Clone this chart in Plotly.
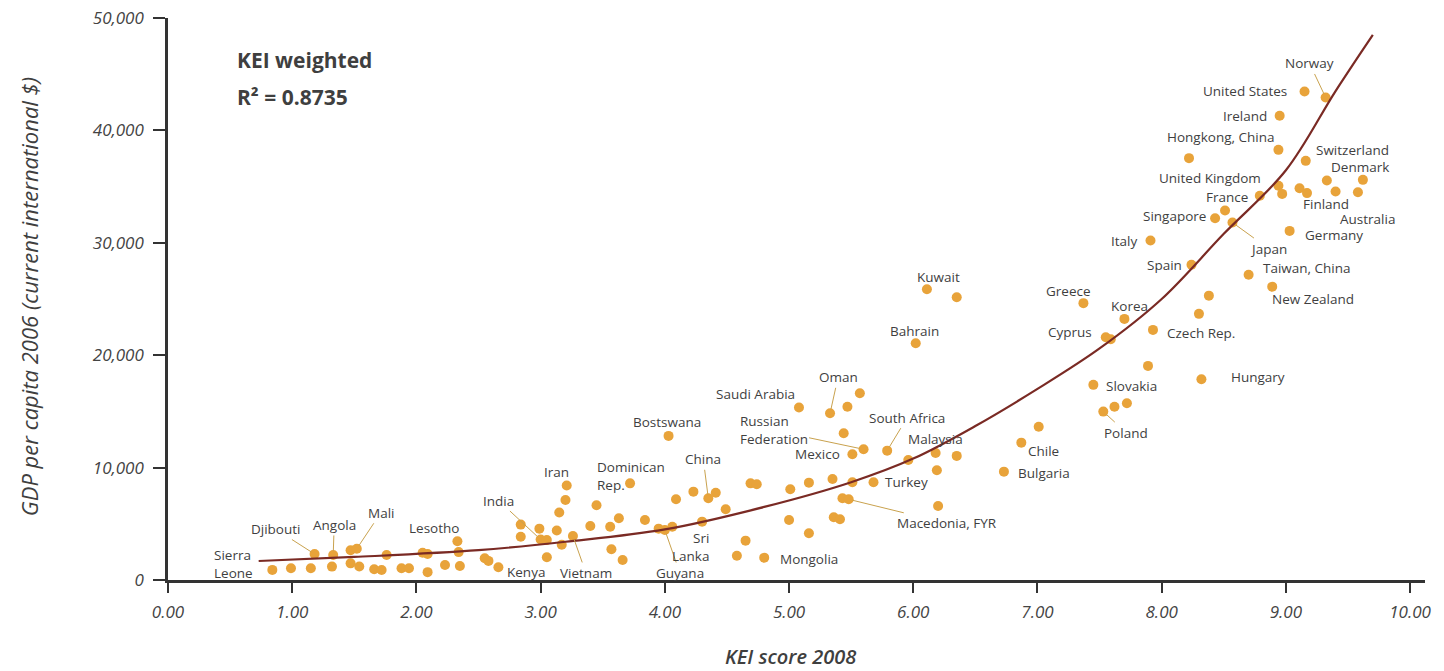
import plotly.graph_objects as go

# ---------------- data ----------------
kei = [0.84, 0.99, 1.15, 1.18, 1.32, 1.33, 1.47, 1.52, 1.47, 1.54,
       1.66, 1.72, 1.76, 1.88, 1.94, 2.05, 2.09, 2.09, 2.23, 2.33,
       2.34, 2.35, 2.55, 2.58, 2.66, 2.84, 2.84, 2.99, 3.00, 3.05,
       3.05, 3.13, 3.15, 3.17, 3.20, 3.21, 3.26, 3.40, 3.45, 3.56,
       3.57, 3.63, 3.66, 3.72, 3.84, 3.95, 4.00, 4.06, 4.03, 4.09,
       4.23, 4.35, 4.41, 4.49, 4.30, 4.58, 4.65, 4.80, 4.69, 4.74,
       5.01, 5.00, 5.16, 5.16, 5.08, 5.33, 5.47, 5.57, 5.44, 5.51,
       5.60, 5.79, 5.35, 5.51, 5.68, 5.43, 5.48, 5.36, 5.41, 5.96,
       6.18, 6.19, 6.20, 6.35, 6.02, 6.11, 6.35, 6.73, 6.87, 7.01,
       7.37, 7.55, 7.59, 7.70, 7.93, 7.45, 7.53, 7.62, 7.72, 7.89,
       8.32, 8.30, 8.38, 8.24, 8.70, 8.89, 9.15, 9.32, 8.95, 8.94,
       8.22, 9.16, 9.33, 9.62, 8.94, 8.97, 9.11, 9.17, 9.40, 9.58,
       8.79, 8.51, 8.43, 8.57, 9.03, 7.91]

gdp = [900, 1040, 1040, 2310, 1190, 2230, 2650, 2780, 1480, 1200,
       950, 890, 2230, 1040, 1040, 2430, 2310, 700, 1335, 3450,
       2480, 1250, 1930, 1700, 1130, 4930, 3850, 4570, 3600, 3560,
       2020, 4400, 6000, 3140, 7120, 8400, 3920, 4800, 6650, 4740,
       2730, 5490, 1780, 8600, 5340, 4570, 4450, 4740, 12820, 7180,
       7860, 7270, 7770, 6290, 5190, 2160, 3500, 1990, 8600, 8520,
       8070, 5340, 4160, 8660, 15340, 14830, 15420, 16610, 13050, 11190,
       11630, 11510, 8990, 8700, 8700, 7270, 7180, 5580, 5400, 10680,
       11300, 9760, 6590, 11040, 21070, 25870, 25160, 9640, 12220, 13640,
       24630, 21600, 21420, 23230, 22250, 17360, 14980, 15420, 15730, 19050,
       17860, 23680, 25300, 28040, 27150, 26100, 43460, 42930, 41300, 38270,
       37530, 37290, 35540, 35600, 35070, 34350, 34860, 34420, 34560, 34500,
       34180, 32870, 32190, 31800, 31060, 30200]

country = ["Sierra Leone", "", "", "Djibouti", "", "Angola", "", "Mali", "", "",
           "", "", "", "", "", "", "", "", "", "Lesotho",
           "", "", "", "", "Kenya", "", "", "", "India", "",
           "", "", "", "", "", "Iran", "Vietnam", "", "", "",
           "", "", "", "Dominican Rep.", "", "", "Guyana", "Sri Lanka", "Bostswana", "",
           "", "China", "", "", "", "", "", "Mongolia", "", "",
           "", "", "", "", "Saudi Arabia", "Oman", "", "", "", "Mexico",
           "Russian Federation", "South Africa", "", "", "Turkey", "", "Macedonia, FYR", "", "", "",
           "Malaysia", "", "", "", "Bahrain", "Kuwait", "", "Bulgaria", "Chile", "",
           "Greece", "Cyprus", "", "Korea", "Czech Rep.", "Slovakia", "Poland", "", "", "",
           "Hungary", "", "", "Spain", "Taiwan, China", "New Zealand", "United States", "Norway", "Ireland", "Hongkong, China",
           "", "Switzerland", "", "Denmark", "United Kingdom", "", "", "Finland", "", "Australia",
           "France", "", "Singapore", "Japan", "Germany", "Italy"]

# trend line
trend_kei = [0.73, 1.5, 2.5, 3.2, 4.0, 4.8, 5.5, 6.0, 6.5, 7.0, 7.5, 8.0, 8.5, 9.0, 9.4, 9.70]
trend_gdp = [1690, 2050, 2650, 3400, 4500, 6500, 8700, 10800, 13700, 17000, 20600, 25000, 30800, 36450, 43500, 48500]

x_ticks = [0, 1, 2, 3, 4, 5, 6, 7, 8, 9, 10]
y_ticks = [0, 10000, 20000, 30000, 40000, 50000]

# ---------------- label placement (pixel offsets of label centre from its dot) ----------------
label_style = {
    "Sierra Leone": (-39, -6, False, "Sierra<br>Leone", "left"),
    "Djibouti": (-39, -25, True, None, "center"),
    "Angola": (1, -30, True, None, "center"),
    "Mali": (24, -36, True, None, "center"),
    "Lesotho": (-23, -13, False, None, "center"),
    "Kenya": (28, 5, False, None, "center"),
    "India": (-42, -39, True, None, "center"),
    "Iran": (-10, -14, False, None, "center"),
    "Vietnam": (13, 37, True, None, "center"),
    "Dominican Rep.": (1, -7, False, "Dominican<br>Rep.", "left"),
    "Bostswana": (-2, -14, False, None, "center"),
    "China": (-5, -39, True, None, "center"),
    "Guyana": (15, 43, True, None, "center"),
    "Sri Lanka": (18, 20, True, "Sri<br>Lanka", "right"),
    "Mongolia": (45, 1, False, None, "center"),
    "Saudi Arabia": (-43, -14, False, None, "center"),
    "Oman": (8, -36, True, None, "center"),
    "Russian Federation": (-90, -19, True, "Russian<br>Federation", "left"),
    "Mexico": (-35, 0, False, None, "center"),
    "South Africa": (20, -33, True, None, "center"),
    "Malaysia": (0, -14, False, None, "center"),
    "Turkey": (33, 0, False, None, "center"),
    "Macedonia, FYR": (98, 24, True, None, "center"),
    "Bahrain": (-1, -12, False, None, "center"),
    "Kuwait": (12, -12, False, None, "center"),
    "Greece": (-15, -12, False, None, "center"),
    "Cyprus": (-36, -5, False, None, "center"),
    "Korea": (5, -13, False, None, "center"),
    "Czech Rep.": (48, 3, False, None, "center"),
    "Slovakia": (38, 1, False, None, "center"),
    "Poland": (23, 21, True, None, "center"),
    "Chile": (22, 8, False, None, "center"),
    "Bulgaria": (40, 1, False, None, "center"),
    "Hungary": (57, -2, False, None, "center"),
    "Spain": (-27, 0, False, None, "center"),
    "Italy": (-27, 0, False, None, "center"),
    "Taiwan, China": (58, -7, False, None, "center"),
    "New Zealand": (41, 12, False, None, "center"),
    "Germany": (44, 4, False, None, "center"),
    "Japan": (36, 26, True, None, "center"),
    "Singapore": (-41, -2, False, None, "center"),
    "France": (-33, 1, False, None, "center"),
    "United Kingdom": (-68, -8, False, None, "center"),
    "Hongkong, China": (-58, -13, False, None, "center"),
    "Ireland": (-35, 0, False, None, "center"),
    "United States": (-60, -1, False, None, "center"),
    "Norway": (-16, -34, True, None, "center"),
    "Switzerland": (47, -11, False, None, "center"),
    "Denmark": (-3, -13, False, None, "center"),
    "Finland": (19, 11, False, None, "center"),
    "Australia": (10, 27, False, None, "center"),
}

DOT = "#E8A33A"
TREND = "#7A2A24"
LEADER = "#C9A24E"
TEXT = "#3f3f3f"
LABEL_FONT = dict(family="Open Sans", size=13.5, color=TEXT)

fig = go.Figure()
fig.add_trace(go.Scatter(x=kei, y=gdp, mode="markers",
                         marker=dict(size=10, color=DOT, line=dict(width=0)),
                         hoverinfo="skip", showlegend=False))
fig.add_trace(go.Scatter(x=trend_kei, y=trend_gdp, mode="lines",
                         line=dict(color=TREND, width=2.2, shape="spline", smoothing=1.0),
                         hoverinfo="skip", showlegend=False))

annotations = []
for xi, yi, name in zip(kei, gdp, country):
    if not name:
        continue
    dx, dy, leader, txt, align = label_style[name]
    annotations.append(dict(
        x=xi, y=yi, xref="x", yref="y", text=txt if txt else name,
        showarrow=True, ax=dx, ay=dy, arrowhead=0, arrowwidth=1,
        arrowcolor=LEADER if leader else "rgba(0,0,0,0)", standoff=4,
        align=align, font=LABEL_FONT,
    ))

annotations += [
    dict(x=0.053, y=0.925, xref="paper", yref="paper", text="KEI weighted", showarrow=False,
         xanchor="left", yanchor="middle", font=dict(family="Open Sans", size=21, color=TEXT, weight="bold")),
    dict(x=0.053, y=0.859, xref="paper", yref="paper", text="R² = 0.8735", showarrow=False,
         xanchor="left", yanchor="middle", font=dict(family="Open Sans", size=21, color=TEXT, weight="bold")),
    dict(x=-0.111, y=0.504, xref="paper", yref="paper",
         text="GDP per capita 2006 (current international $)", showarrow=False, textangle=-90,
         xanchor="center", yanchor="middle",
         font=dict(family="Open Sans", size=22, color=TEXT, style="italic")),
    dict(x=0.495, y=-0.137, xref="paper", yref="paper", text="KEI score 2008", showarrow=False,
         xanchor="center", yanchor="middle",
         font=dict(family="Open Sans", size=20, color=TEXT, style="italic", weight=600)),
]

tick_font = dict(family="Open Sans", size=17, color="#444444", style="italic")
# the page body adds an 8px margin, so the figure is sized to fill the window exactly
fig.update_layout(
    width=1436, height=663,
    margin=dict(l=160, r=19, t=10, b=91),
    plot_bgcolor="white", paper_bgcolor="white",
    annotations=annotations,
    xaxis=dict(range=[0, 10.12], tickvals=x_ticks, tickformat=".2f", showgrid=False, zeroline=False,
               showline=True, linewidth=2.5, linecolor="#333333", ticks="outside", ticklen=10,
               tickwidth=2, tickcolor="#333333", tickfont=tick_font, ticklabelstandoff=5,
               ticklabeloverflow="allow", automargin=False),
    yaxis=dict(range=[0, 50000], tickvals=y_ticks, tickformat=",d", showgrid=False, zeroline=False,
               showline=True, linewidth=2.5, linecolor="#333333", ticks="outside", ticklen=12,
               tickwidth=2, tickcolor="#333333", tickfont=tick_font, ticklabelstandoff=6,
               ticklabeloverflow="allow", automargin=False),
)

fig.write_html("out.html")
